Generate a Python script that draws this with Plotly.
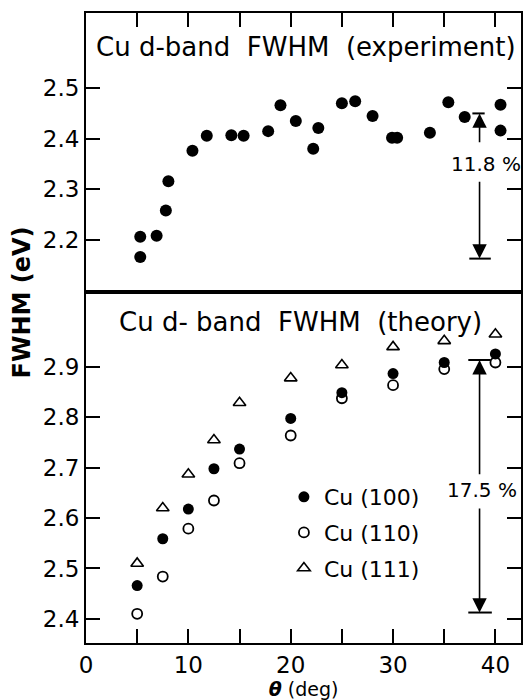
import plotly.graph_objects as go

# ---- data ----
exp_theta = [5.3, 5.3, 6.9, 7.8, 8.05, 10.4, 11.8, 14.2, 15.4, 17.8, 19.0, 20.5,
             22.2, 22.7, 25.0, 26.3, 28.0, 29.9, 30.4, 33.6, 35.4, 37.0, 40.5, 40.5]
exp_fwhm = [2.206, 2.166, 2.208, 2.258, 2.316, 2.376, 2.406, 2.407, 2.406, 2.415, 2.466, 2.435,
            2.380, 2.421, 2.470, 2.474, 2.445, 2.402, 2.402, 2.412, 2.472, 2.443, 2.467, 2.416]

theory_theta = [5, 7.5, 10, 12.5, 15, 20, 25, 30, 35, 40]
cu100 = [2.466, 2.559, 2.618, 2.698, 2.737, 2.798, 2.849, 2.887, 2.909, 2.926]
cu110 = [2.410, 2.484, 2.579, 2.635, 2.709, 2.764, 2.838, 2.864, 2.896, 2.909]
cu111 = [2.510, 2.620, 2.687, 2.755, 2.829, 2.878, 2.904, 2.940, 2.952, 2.965]

exp_ticks = [2.2, 2.3, 2.4, 2.5]
theory_ticks = [2.4, 2.5, 2.6, 2.7, 2.8, 2.9]
x_ticks = [0, 5, 10, 15, 20, 25, 30, 35, 40]
x_ticktext = ["0", "", "10", "", "20", "", "30", "", "40"]

exp_span = [2.163, 2.45]      # 11.8 %
theory_span = [2.4125, 2.914]  # 17.5 %
arrow_theta = 38.45

FONT = "DejaVu Sans"
black = "black"

fig = go.Figure()

fig.add_trace(go.Scatter(x=exp_theta, y=exp_fwhm, mode="markers", xaxis="x2", yaxis="y2",
                         marker=dict(symbol="circle", size=12, color=black), showlegend=False))

fig.add_trace(go.Scatter(x=theory_theta, y=cu100, mode="markers", name="Cu (100)",
                         marker=dict(symbol="circle", size=11, color=black), legendgroup="a"))
fig.add_trace(go.Scatter(x=theory_theta, y=cu110, mode="markers", name="Cu (110)",
                         marker=dict(symbol="circle-open", size=10, color=black, line=dict(width=1.8)),
                         legendgroup="b"))
fig.add_trace(go.Scatter(x=theory_theta, y=cu111, mode="markers", name="Cu (111)",
                         marker=dict(symbol="triangle-up-open", size=11, color=black, line=dict(width=1.6)),
                         legendgroup="c"))

split = 351 / 630

axis_common = dict(showline=True, linecolor=black, linewidth=2, ticks="inside", ticklen=14,
                   tickwidth=2, tickcolor=black, showgrid=False, zeroline=False)

fig.update_layout(
    width=524, height=700,
    margin=dict(l=86, r=1, t=13, b=57),
    paper_bgcolor="white", plot_bgcolor="white",
    font=dict(family=FONT, size=21, color=black),
    xaxis=dict(**axis_common, domain=[0, 1], anchor="y", range=[0, 42.5], mirror=True,
               tickvals=x_ticks, ticktext=x_ticktext, tickfont=dict(size=23),
               title=dict(text="<b><i>θ</i></b> (deg)", font=dict(size=19), standoff=5)),
    yaxis=dict(**axis_common, domain=[0, split], anchor="x", range=[2.352, 3.049],
               mirror="ticks", tickvals=theory_ticks, ticktext=[f"{v:.1f}" for v in theory_ticks],
               tickfont=dict(size=23)),
    xaxis2=dict(**axis_common, domain=[0, 1], anchor="y2", side="top", range=[0, 42.5],
                mirror=True, tickvals=[5, 10, 15, 20, 25, 30, 35, 40], showticklabels=False),
    yaxis2=dict(**axis_common, domain=[split, 1], anchor="x2", range=[2.097, 2.6485],
                mirror="ticks", tickvals=exp_ticks, ticktext=[f"{v:.1f}" for v in exp_ticks],
                tickfont=dict(size=23)),
    legend=dict(x=0.455, y=0.265, xanchor="left", yanchor="top", bgcolor="rgba(0,0,0,0)",
                font=dict(size=22), traceorder="grouped", tracegroupgap=4,
                itemwidth=30),
    showlegend=True,
)

annotations = [
    dict(text="Cu d-band\u00a0\u00a0FWHM\u00a0\u00a0(experiment)", xref="x2 domain", yref="y2 domain",
         x=0.018, y=0.878, xanchor="left", yanchor="middle", showarrow=False, font=dict(size=26)),
    dict(text="Cu d-\u00a0band\u00a0\u00a0FWHM\u00a0\u00a0(theory)", xref="x domain", yref="y domain",
         x=0.072, y=0.9145, xanchor="left", yanchor="middle", showarrow=False, font=dict(size=26)),
    dict(text="<b>FWHM (eV)</b>", xref="paper", yref="paper", x=-0.148, y=0.54, textangle=-90,
         xanchor="center", yanchor="middle", showarrow=False, font=dict(size=24)),
    # experiment span arrow
    dict(text="11.8\u00a0%", xref="x2", yref="y2", x=arrow_theta + 0.6, y=2.351, showarrow=False,
         font=dict(size=20)),
    dict(text="", xref="x2", yref="y2", axref="x2", ayref="y2", x=arrow_theta, y=exp_span[1],
         ax=arrow_theta, ay=2.39, showarrow=True, arrowhead=2, arrowsize=1.8, arrowwidth=1.6,
         arrowcolor=black, standoff=0),
    dict(text="", xref="x2", yref="y2", axref="x2", ayref="y2", x=arrow_theta, y=exp_span[0],
         ax=arrow_theta, ay=2.318, showarrow=True, arrowhead=2, arrowsize=1.8, arrowwidth=1.6,
         arrowcolor=black, standoff=0),
    # theory span arrow
    dict(text="17.5\u00a0%", xref="x", yref="y", x=arrow_theta + 0.2, y=2.655, showarrow=False,
         font=dict(size=20)),
    dict(text="", xref="x", yref="y", axref="x", ayref="y", x=arrow_theta, y=theory_span[1],
         ax=arrow_theta, ay=2.684, showarrow=True, arrowhead=2, arrowsize=1.8, arrowwidth=1.6,
         arrowcolor=black, standoff=0),
    dict(text="", xref="x", yref="y", axref="x", ayref="y", x=arrow_theta, y=theory_span[0],
         ax=arrow_theta, ay=2.622, showarrow=True, arrowhead=2, arrowsize=1.8, arrowwidth=1.6,
         arrowcolor=black, standoff=0),
]
fig.update_layout(annotations=annotations)

shapes = [
    dict(type="line", xref="x2", yref="y2", x0=arrow_theta - 0.7, x1=arrow_theta + 0.5,
         y0=exp_span[1], y1=exp_span[1], line=dict(color=black, width=2)),
    dict(type="line", xref="x2", yref="y2", x0=arrow_theta - 1.0, x1=arrow_theta + 1.1,
         y0=exp_span[0], y1=exp_span[0], line=dict(color=black, width=2)),
    dict(type="line", xref="x", yref="y", x0=arrow_theta - 1.1, x1=arrow_theta + 1.1,
         y0=theory_span[1], y1=theory_span[1], line=dict(color=black, width=2)),
    dict(type="line", xref="x", yref="y", x0=arrow_theta - 1.1, x1=arrow_theta + 1.2,
         y0=theory_span[0], y1=theory_span[0], line=dict(color=black, width=2)),
]
fig.update_layout(shapes=shapes)

fig.write_html("out.html")
